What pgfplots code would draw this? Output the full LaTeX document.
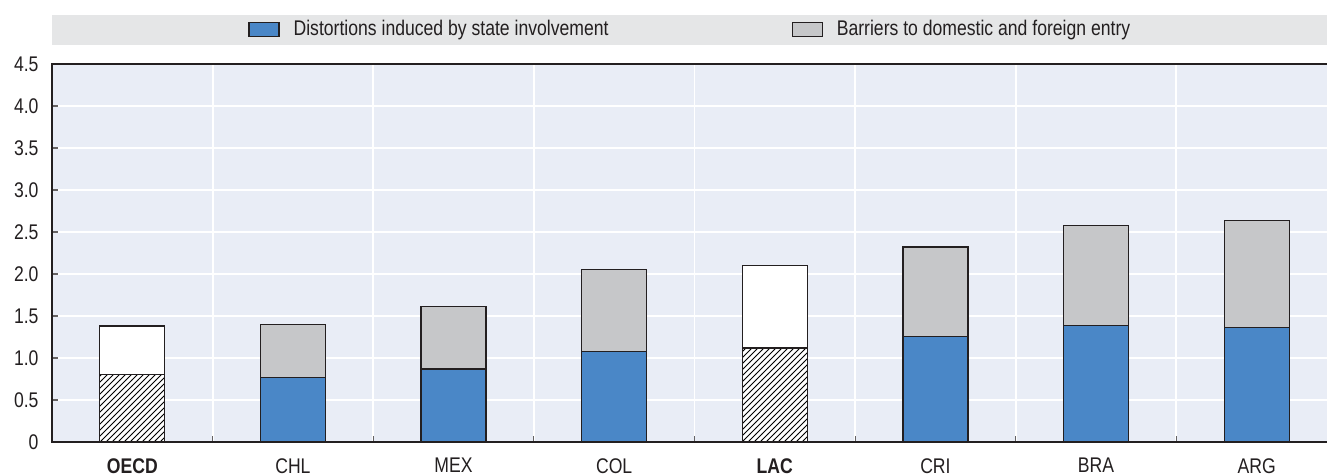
\documentclass[border=0pt]{standalone}
\usepackage{pgfplots}
\pgfplotsset{compat=1.18}
\usepackage{fontspec}
\setmainfont[FakeStretch=0.83]{Liberation Sans}
\usetikzlibrary{patterns}
\definecolor{oecdblue}{HTML}{4A87C7}
\definecolor{oecdgrey}{HTML}{C6C7C9}
\definecolor{plotbg}{HTML}{E9EDF6}
\definecolor{legbg}{HTML}{E5E6E7}
\definecolor{ink}{HTML}{231F20}

\begin{document}
\begin{tikzpicture}[x=1pt,y=1pt]
\useasboundingbox (0,0) rectangle (663.5,238);
\clip (0,0) rectangle (663.5,238);
% legend band
\fill[legbg] (26,215.5) rectangle (663.5,230.5);
\begin{axis}[
  at={(26pt,17pt)}, anchor=south west,
  scale only axis, width=642.5pt, height=189pt,
  xmin=-0.5, xmax=7.5, ymin=0, ymax=4.5,
  ybar stacked, bar width=32.5pt,
  axis background/.style={fill=plotbg},
  axis line style={ink, line width=0.8pt},
  xtick={0.5,1.5,...,6.5}, xticklabels={},
  extra x ticks={0,1,2,3,4,5,6,7},
  extra x tick labels={\textbf{OECD},CHL,MEX,COL,\textbf{LAC},CRI,BRA,ARG},
  extra x tick style={major tick length=0pt, grid=none},
  xmajorgrids=true, ymajorgrids=true,
  grid style={white, line width=0.9pt},
  ytick={0,0.5,...,4.5},
  yticklabels={0,0.5,1.0,1.5,2.0,2.5,3.0,3.5,4.0,4.5},
  major tick length=3pt,
  tick style={ink!70, line width=0.6pt},
  tick align=inside,
  xtick pos=bottom, ytick pos=left,
  ticklabel style={font=\fontsize{10.6}{12}\selectfont, text=ink},
  xticklabel style={yshift=-4.6pt},
  yticklabel style={xshift=-3.2pt},
  legend style={at={(0.4975,1.092)}, anchor=center, draw=none, fill=none,
    legend columns=2, font=\fontsize{10.6}{12}\selectfont, text=ink,
    /tikz/every even column/.append style={column sep=89.5pt}},
  legend image code/.code={\draw[#1] (0pt,-3.5pt) rectangle (15pt,3.5pt); \path (20pt,0pt);},
  legend cell align=left,
]
% bottom segment, countries
\addplot[fill=oecdblue, draw=ink, line width=0.65pt] coordinates {
  (0,0) (1,0.77) (2,0.87) (3,1.08) (4,0) (5,1.26) (6,1.39) (7,1.36)};
\addlegendentry{Distortions induced by state involvement}
% bottom segment, aggregates (hatched)
\addplot[fill=white, postaction={pattern=north east lines}, draw=ink, line width=0.65pt, forget plot] coordinates {
  (0,0.80) (1,0) (2,0) (3,0) (4,1.12) (5,0) (6,0) (7,0)};
% top segment, countries
\addplot[fill=oecdgrey, draw=ink, line width=0.65pt] coordinates {
  (0,0) (1,0.63) (2,0.74) (3,0.97) (4,0) (5,1.06) (6,1.19) (7,1.28)};
\addlegendentry{Barriers to domestic and foreign entry}
% top segment, aggregates (white)
\addplot[fill=white, draw=ink, line width=0.65pt, forget plot] coordinates {
  (0,0.58) (1,0) (2,0) (3,0) (4,0.98) (5,0) (6,0) (7,0)};
\end{axis}
\end{tikzpicture}
\end{document}
